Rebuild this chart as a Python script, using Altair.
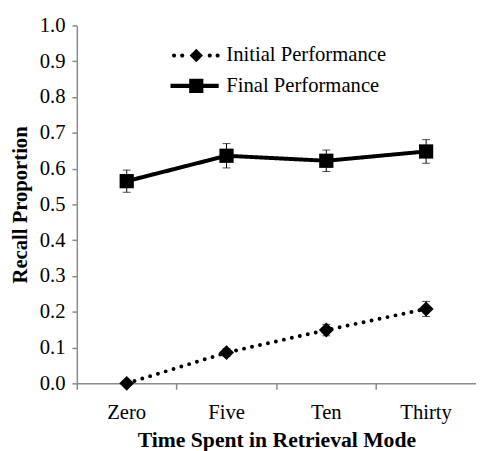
import altair as alt
import pandas as pd

categories = ["Zero", "Five", "Ten", "Thirty"]
series_names = ["Initial Performance", "Final Performance"]
initial_vals = [0.000, 0.086, 0.149, 0.208]
initial_err = [0.000, 0.011, 0.016, 0.021]
final_vals = [0.565, 0.636, 0.622, 0.648]
final_err = [0.031, 0.034, 0.030, 0.033]
y_ticks = [round(i * 0.1, 1) for i in range(11)]

rows = []
for c, v, e in zip(categories, initial_vals, initial_err):
    rows.append({"cat": c, "series": series_names[0], "val": v, "lo": v - e, "hi": v + e, "err": e})
for c, v, e in zip(categories, final_vals, final_err):
    rows.append({"cat": c, "series": series_names[1], "val": v, "lo": v - e, "hi": v + e, "err": e})
df = pd.DataFrame(rows)

FONT = "Liberation Serif"
AX = "#8a8a8a"

# legend symbols (units of 10px, centred on the marker)
def dot(x, r=0.21):
    return f"M{x - r},0 A{r},{r} 0 1,0 {x + r},0 A{r},{r} 0 1,0 {x - r},0 Z"

initial_path = " ".join([dot(-2.26), dot(-1.43), dot(1.37), dot(2.17),
                         "M-0.68,0 L0,-0.68 L0.68,0 L0,0.68 Z"])
final_path = ("M-2.62,-0.22 L2.28,-0.22 L2.28,0.22 L-2.62,0.22 Z "
              "M-0.72,-0.72 L0.72,-0.72 L0.72,0.72 L-0.72,0.72 Z")

x_axis = alt.Axis(title="Time Spent in Retrieval Mode", labelAngle=0,
                  bandPosition=0, tickSize=6, labelPadding=13, titlePadding=7,
                  labelFont=FONT, titleFont=FONT)
y_axis = alt.Axis(title="Recall Proportion", values=y_ticks, format=".1f",
                  tickSize=5, labelPadding=7, titlePadding=9, grid=False,
                  labelOverlap=False, labelFont=FONT, titleFont=FONT,
                  titleFontSize=21)
x_scale = alt.Scale(domain=categories, paddingInner=0, paddingOuter=0)
y_scale = alt.Scale(domain=[0, 1], nice=False)

def X():
    return alt.X("cat:N", sort=categories, scale=x_scale, axis=x_axis)

def Y(field):
    return alt.Y(f"{field}:Q", scale=y_scale, axis=y_axis)

base = alt.Chart(df)

lines = base.mark_line(color="black", strokeWidth=4, strokeCap="round").encode(
    x=X(), y=Y("val"),
    strokeDash=alt.StrokeDash("series:N", scale=alt.Scale(domain=series_names,
                                                          range=[[0, 8.3], [1, 0]]),
                              legend=None),
    detail="series:N",
)

eb = base.transform_filter("datum.err > 0")
bars = eb.mark_rule(color="black", strokeWidth=1).encode(x=X(), y=Y("lo"), y2="hi:Q")
caps_lo = eb.mark_tick(color="black", thickness=1, size=8, orient="horizontal").encode(
    x=X(), y=Y("lo"))
caps_hi = eb.mark_tick(color="black", thickness=1, size=8, orient="horizontal").encode(
    x=X(), y=Y("hi"))

points = base.mark_point(filled=True, color="black", opacity=1).encode(
    x=X(), y=Y("val"),
    shape=alt.Shape("series:N", scale=alt.Scale(domain=series_names,
                                                range=["diamond", "square"]),
                    legend=None),
    size=alt.Size("series:N", scale=alt.Scale(domain=series_names, range=[230, 210]),
                  legend=None),
)

legend = alt.Legend(
    title=None, orient="none", legendX=111, legendY=20, padding=0, offset=0,
    labelFont=FONT, labelFontSize=21, labelColor="black", labelOffset=20,
    labelLimit=400, rowPadding=9, symbolSize=400, symbolFillColor="black",
    symbolStrokeWidth=0, symbolOpacity=1,
)

legend_layer = base.transform_filter("false").mark_point(
    filled=True, color="black", opacity=1, size=400).encode(
    x=X(), y=Y("val"),
    shape=alt.Shape("series:N", scale=alt.Scale(domain=series_names,
                                                range=[initial_path, final_path]),
                    legend=legend),
)

chart = alt.layer(lines, bars, caps_lo, caps_hi, points, legend_layer).resolve_scale(
    shape="independent", size="independent"
).properties(
    width=406, height=364,
    autosize=alt.AutoSizeParams(type="none"),
    padding={"left": 70, "top": 14, "right": 0, "bottom": 65},
).configure(font=FONT).configure_view(stroke=None).configure_axis(
    domainColor=AX, tickColor=AX, domainWidth=1.5, tickWidth=1.5,
    labelFont=FONT, labelFontSize=21, labelColor="black",
    titleFont=FONT, titleFontSize=22, titleFontWeight="bold", titleColor="black",
).configure_legend(labelFont=FONT)

chart.save("out.html", embed_options={"renderer": "svg", "actions": False})
